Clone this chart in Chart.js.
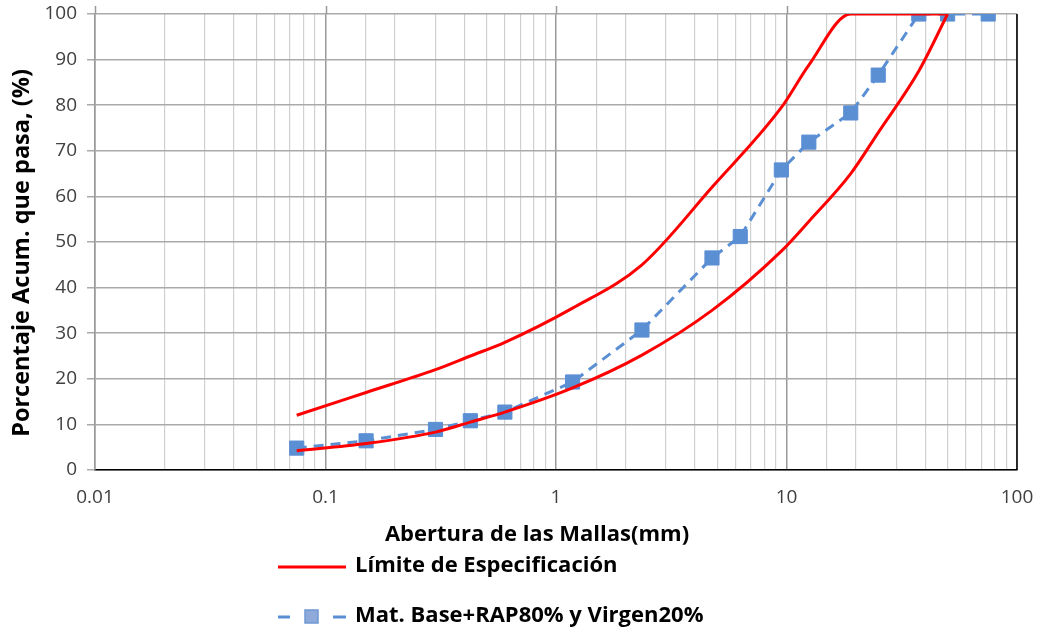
<!DOCTYPE html>
<html>
<head>
<meta charset="utf-8">
<script src="https://cdn.jsdelivr.net/npm/chart.js@4.4.1/dist/chart.umd.min.js"></script>
<style>
  html, body { margin: 0; padding: 0; background: #fff; }
  #wrap { width: 1039px; height: 634px; position: relative; }
</style>
</head>
<body>
<div id="wrap"><canvas id="c" width="1039" height="634"></canvas></div>
<script>
// ---- data ----
const sieves = [0.075, 0.15, 0.3, 0.425, 0.6, 1.18, 2.36, 4.75, 6.3, 9.5, 12.5, 19, 25, 37.5, 50, 75];
const materialPass = [4.8, 6.4, 8.9, 10.8, 12.7, 19.3, 30.7, 46.5, 51.2, 65.8, 71.9, 78.3, 86.6, 100, 100, 100];

const limitSieves = [0.075, 0.15, 0.3, 0.425, 0.6, 1.18, 2.36, 4.75, 9.5, 12.5, 19, 25, 37.5, 50];
const upperLimit = [12, 17, 22, 25, 28, 35.5, 45, 62, 79.5, 88.8, 100, 100, 100, 100];
const lowerLimit = [4.2, 5.8, 8.3, 10.5, 12.7, 18, 25.2, 35, 48, 54.5, 65, 74, 87.5, 100];

const xTickLabels = ['0.01', '0.1', '1', '10', '100'];
const yTickLabels = ['0', '10', '20', '30', '40', '50', '60', '70', '80', '90', '100'];

const seriesNames = ['Límite de Especificación', 'Mat. Base+RAP80% y Virgen20%'];
const xTitle = 'Abertura de las Mallas(mm)';
const yTitle = 'Porcentaje Acum. que pasa, (%)';

const RED = '#ff0000';
const BLUE = '#5b8fd4';
const FONT = '"Open Sans", "Noto Sans", "Liberation Sans", sans-serif';

function isMajor(v) {
  const l = Math.log10(v);
  return Math.abs(l - Math.round(l)) < 1e-9;
}

const extrasPlugin = {
  id: 'extras',
  afterDatasetsDraw(chart) {
    const ctx = chart.ctx;
    const area = chart.chartArea;
    const xs = chart.scales.x;
    ctx.save();
    // right border
    ctx.strokeStyle = '#000';
    ctx.lineWidth = 1.5;
    ctx.beginPath();
    ctx.moveTo(area.right, area.top);
    ctx.lineTo(area.right, area.bottom);
    ctx.stroke();
    // major ticks above top
    ctx.strokeStyle = '#999';
    ctx.lineWidth = 1.5;
    for (let e = -2; e <= 1; e++) {
      const px = Math.round(xs.getPixelForValue(Math.pow(10, e))) + 0.5;
      ctx.beginPath();
      ctx.moveTo(px, area.top - 8);
      ctx.lineTo(px, area.top);
      ctx.stroke();
    }
    ctx.restore();
  },
  afterDraw(chart) {
    const ctx = chart.ctx;
    ctx.save();
    // y axis title
    ctx.fillStyle = '#000';
    ctx.font = 'bold 23.5px ' + FONT;
    ctx.textAlign = 'center';
    ctx.textBaseline = 'middle';
    ctx.translate(22, 253);
    ctx.rotate(-Math.PI / 2);
    ctx.fillText(yTitle, 0, 0);
    ctx.setTransform(1, 0, 0, 1, 0, 0);
    // x axis title
    ctx.font = 'bold 22px ' + FONT;
    ctx.fillText(xTitle, 537, 535);
    // legend
    ctx.textAlign = 'left';
    ctx.font = 'bold 22px ' + FONT;
    const lx = 278, tx = 355;
    const y1 = 566, y2 = 616;
    ctx.strokeStyle = RED;
    ctx.lineWidth = 3;
    ctx.beginPath();
    ctx.moveTo(lx, y1 + 1);
    ctx.lineTo(lx + 68, y1 + 1);
    ctx.stroke();
    ctx.fillStyle = '#000';
    ctx.fillText(seriesNames[0], tx, y1);

    ctx.strokeStyle = BLUE;
    ctx.lineWidth = 3;
    ctx.beginPath();
    ctx.moveTo(lx, y2 + 1); ctx.lineTo(lx + 12, y2 + 1);
    ctx.moveTo(lx + 55, y2 + 1); ctx.lineTo(lx + 68, y2 + 1);
    ctx.stroke();
    ctx.fillStyle = '#8eaadb';
    ctx.strokeStyle = '#6f98d4';
    ctx.lineWidth = 1.5;
    ctx.beginPath();
    ctx.rect(lx + 27, y2 - 6, 13, 13);
    ctx.fill();
    ctx.stroke();
    ctx.fillStyle = '#000';
    ctx.fillText(seriesNames[1], tx, y2);
    ctx.restore();
  }
};

const toPts = (xsArr, ysArr) => xsArr.map((x, i) => ({ x: x, y: ysArr[i] }));

new Chart(document.getElementById('c'), {
  type: 'line',
  data: {
    datasets: [
      {
        label: seriesNames[0],
        data: toPts(limitSieves, upperLimit),
        borderColor: RED,
        borderWidth: 3,
        pointRadius: 0,
        cubicInterpolationMode: 'monotone',
        fill: false
      },
      {
        label: seriesNames[0] + ' (inf.)',
        data: toPts(limitSieves, lowerLimit),
        borderColor: RED,
        borderWidth: 3,
        pointRadius: 0,
        cubicInterpolationMode: 'monotone',
        fill: false
      },
      {
        label: seriesNames[1],
        data: toPts(sieves, materialPass),
        borderColor: BLUE,
        borderWidth: 3,
        borderDash: [10, 7],
        pointStyle: 'rect',
        pointRadius: 10,
        pointBackgroundColor: BLUE,
        pointBorderColor: BLUE,
        pointBorderWidth: 1,
        tension: 0,
        fill: false
      }
    ]
  },
  options: {
    responsive: false,
    animation: false,
    devicePixelRatio: 1,
    layout: { padding: { left: 0, right: 22, top: 14, bottom: 0 } },
    plugins: {
      legend: { display: false },
      tooltip: { enabled: false }
    },
    scales: {
      x: {
        type: 'logarithmic',
        min: 0.01,
        max: 100,
        afterFit: (s) => { s.height = 164; s.paddingLeft = 0; s.paddingRight = 0; },
        border: { display: true, color: '#000', width: 1.5 },
        grid: {
          drawTicks: false,
          color: (c) => (c.tick && isMajor(c.tick.value)) ? '#999999' : '#d0d0d0',
          lineWidth: (c) => (c.tick && isMajor(c.tick.value)) ? 1.5 : 1.2
        },
        ticks: {
          autoSkip: false,
          maxRotation: 0,
          padding: 16,
          color: '#404040',
          font: { family: FONT, size: 19 },
          callback: (v) => isMajor(v) ? xTickLabels[Math.round(Math.log10(v)) + 2] : ''
        }
      },
      y: {
        min: 0,
        max: 100,
        afterFit: (s) => { s.width = 95; s.paddingTop = 0; s.paddingBottom = 0; },
        border: { display: true, color: '#999999', width: 1.5 },
        grid: {
          color: '#aaaaaa',
          lineWidth: 1.5,
          drawTicks: true,
          tickLength: 8
        },
        ticks: {
          stepSize: 10,
          padding: 10,
          color: '#404040',
          font: { family: FONT, size: 19 },
          callback: (v) => yTickLabels[Math.round(v / 10)]
        }
      }
    }
  },
  plugins: [extrasPlugin]
});
</script>
</body>
</html>
